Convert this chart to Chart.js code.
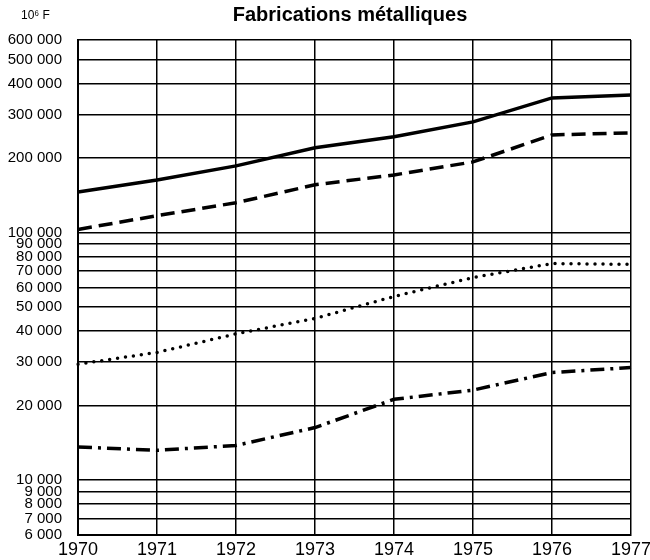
<!DOCTYPE html>
<html>
<head>
<meta charset="utf-8">
<script src="https://cdn.jsdelivr.net/npm/chart.js@4"></script>
<style>
  html, body { margin: 0; padding: 0; background: #fff; }
  #box { width: 650px; height: 560px; position: relative; }
</style>
</head>
<body>
<div id="box"><canvas id="grafico"></canvas></div>
<script>
// ---------------- DONNÉES ----------------
const annees = ['1970', '1971', '1972', '1973', '1974', '1975', '1976', '1977'];

// valeurs en 10^6 F
const serieContinue = [146000, 163000, 186000, 220000, 244000, 280000, 350000, 360000];
const serieTirets   = [103000, 117000, 132000, 156000, 171000, 193000, 248000, 253000];
const seriePoints   = [29400, 32800, 39000, 45000, 55200, 65800, 75000, 74400];
const serieMixte    = [13600, 13200, 13800, 16300, 21200, 23100, 27200, 28500];

const graduationsY = [6000, 7000, 8000, 9000, 10000, 20000, 30000, 40000, 50000,
  60000, 70000, 80000, 90000, 100000, 200000, 300000, 400000, 500000, 600000];

const titre = 'Fabrications métalliques';
const unite = '10⁶ F';

// ---------------- OUTILS ----------------
function formatFr(v) {
  return String(v).replace(/\B(?=(\d{3})+(?!\d))/g, ' ');
}

// titre + unité dessinés au-dessus de la zone du graphique
const textesHaut = {
  id: 'textesHaut',
  afterDraw(chart) {
    const c = chart.ctx;
    c.save();
    c.fillStyle = '#000';
    c.textBaseline = 'middle';
    c.textAlign = 'center';
    c.font = 'bold 20px "Liberation Sans", Arial, sans-serif';
    c.fillText(titre, 350, 15);
    c.textAlign = 'left';
    c.font = '12px "Liberation Sans", Arial, sans-serif';
    c.fillText(unite, 21, 16);
    c.restore();
  }
};

// ---------------- GRAPHIQUE ----------------
const ligne = (donnees, dash, cap) => ({
  data: donnees,
  borderColor: '#000',
  borderWidth: 3.5,
  borderDash: dash,
  borderCapStyle: cap,
  pointRadius: 0,
  tension: 0,
  fill: false
});

const ctx = document.getElementById('grafico').getContext('2d');
new Chart(ctx, {
  type: 'line',
  data: {
    labels: annees,
    datasets: [
      ligne(serieContinue, [], 'butt'),
      ligne(serieTirets, [14, 7], 'butt'),
      ligne(seriePoints, [0, 8], 'round'),
      ligne(serieMixte, [14, 6, 3, 6], 'butt')
    ]
  },
  options: {
    responsive: true,
    maintainAspectRatio: false,
    animation: false,
    layout: { padding: { top: 40, right: 19, left: 0, bottom: 0 } },
    plugins: {
      legend: { display: false },
      tooltip: { enabled: false }
    },
    scales: {
      x: {
        type: 'category',
        offset: false,
        grid: { color: '#000', lineWidth: 1.5, drawTicks: false },
        border: { color: '#000', width: 2 },
        ticks: {
          color: '#000',
          padding: 4,
          maxRotation: 0,
          autoSkip: false,
          font: { family: '"Liberation Sans", Arial, sans-serif', size: 18 }
        },
        afterFit: s => { s.height = 25; s.paddingLeft = 0; s.paddingRight = 0; }
      },
      y: {
        type: 'logarithmic',
        min: 6000,
        max: 600000,
        grid: { color: '#000', lineWidth: 1.5, drawTicks: false },
        border: { color: '#000', width: 2 },
        afterBuildTicks: s => { s.ticks = graduationsY.map(v => ({ value: v })); },
        ticks: {
          color: '#000',
          padding: 16,
          autoSkip: false,
          font: { family: '"Liberation Sans", Arial, sans-serif', size: 15 },
          callback: v => formatFr(v)
        },
        afterFit: s => { s.width = 78; }
      }
    }
  },
  plugins: [textesHaut]
});
</script>
</body>
</html>
